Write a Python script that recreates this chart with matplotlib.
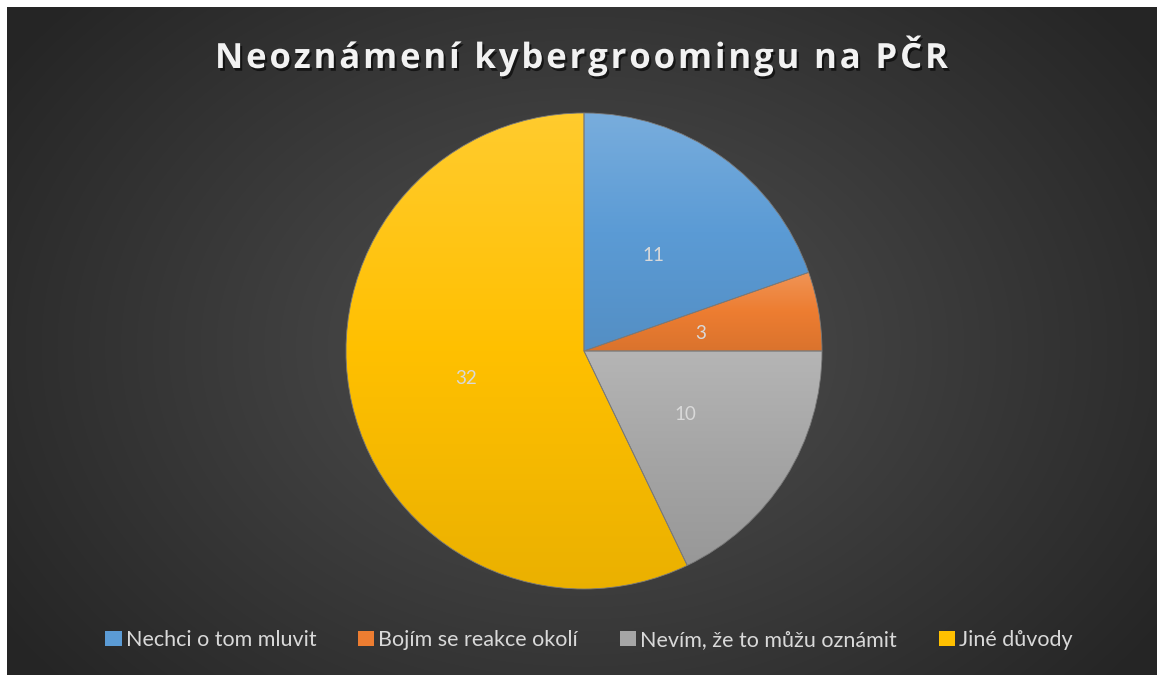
import numpy as np
import matplotlib
matplotlib.use("Agg")
import matplotlib.pyplot as plt
from matplotlib.colors import LinearSegmentedColormap, to_rgb
from matplotlib import font_manager
from matplotlib.ft2font import FT2Font
import matplotlib.patheffects as pe

# data
labels = ["Nechci o tom mluvit", "Bojím se reakce okolí", "Nevím, že to můžu oznámit", "Jiné důvody"]
values = [11, 3, 10, 32]
colors = ["#5B9BD5", "#ED7D31", "#A5A5A5", "#FFC000"]
title = "Neoznámení kybergroomingu na PČR"

W, H = 1157, 675
fig = plt.figure(figsize=(W / 100, H / 100), dpi=100, facecolor="white")

# pozadí s radiálním přechodem
bg = fig.add_axes([7 / W, 0, 1 - 7 / W, (H - 7) / H])
bg.set_axis_off()
yy, xx = np.mgrid[0:668, 0:1150]
d = np.sqrt(((xx - 575) / 700.0) ** 2 + ((yy - 340) / 520.0) ** 2)
d = np.clip(d, 0, 1)
c0, c1 = 0x51 / 255, 0x25 / 255
img = c0 + (c1 - c0) * d
bg.imshow(np.dstack([img, img, img]), aspect="auto", extent=[0, 1, 0, 1])
bg.set_xlim(0, 1)
bg.set_ylim(0, 1)

# graf
cx, cy, r = 584, 351, 238
ax = fig.add_axes([(cx - r) / W, (H - cy - r) / H, 2 * r / W, 2 * r / H])
ax.set_axis_off()

wedges, _ = ax.pie(values, colors=colors, startangle=90, counterclock=False,
                   radius=1, wedgeprops=dict(linewidth=0.6, edgecolor="#7a7a7a"))

def shade(c, f):
    c = np.array(to_rgb(c))
    if f > 0:
        return tuple(c + (1 - c) * f)
    return tuple(c * (1 + f))

# přechod v každé výseči (nahoře světlejší)
for w, c in zip(wedges, colors):
    ext = w.get_path().get_extents()
    cmap = LinearSegmentedColormap.from_list("g", [shade(c, -0.08), c, shade(c, 0.18)])
    grad = np.linspace(0, 1, 256).reshape(-1, 1)
    im = ax.imshow(grad, cmap=cmap, origin="lower", aspect="auto",
                   extent=[ext.x0, ext.x1, ext.y0, ext.y1], zorder=w.get_zorder() + 0.1)
    im.set_clip_path(w)
    w.set_facecolor("none")
    w.set_zorder(w.get_zorder() + 0.2)

ax.set_xlim(-1, 1)
ax.set_ylim(-1, 1)

# popisky hodnot
label_pos = [(653, 256), (701, 333), (685, 415), (466, 379)]
for v, (px, py) in zip(values, label_pos):
    fig.text(px / W, 1 - py / H, str(v), ha="center", va="center",
             color="#D9D9D9", fontsize=13.5, family="Lato")

# nadpis s prostrkáním písmen
tsize = 25
fp = font_manager.FontProperties(family="Open Sans", weight="bold", size=tsize)
ft = FT2Font(font_manager.findfont(fp))
ft.set_size(tsize, 100)
adv = []
for ch in title:
    g = ft.load_char(ord(ch))
    adv.append(g.linearHoriAdvance / 65536)
x_left, x_right = 215, 948
spacing = (x_right - x_left - sum(adv)) / (len(title) - 1)
x = x_left
shadow = [pe.withSimplePatchShadow(offset=(1.5, -2), shadow_rgbFace="black", alpha=0.6)]
for ch, a in zip(title, adv):
    if ch != " ":
        fig.text(x / W, 1 - 68 / H, ch, ha="left", va="baseline", color="#F2F2F2",
                 fontproperties=fp, path_effects=shadow)
    x += a + spacing

leg = fig.legend([plt.Rectangle((0, 0), 1, 1, fc=c) for c in colors], labels,
                 loc="center", bbox_to_anchor=(589 / W, 1 - 640 / H), ncol=4, frameon=False,
                 handlelength=0.75, handleheight=0.75, handletextpad=0.2, columnspacing=1.93,
                 prop=dict(family="Lato", size=15.5))
for t in leg.get_texts():
    t.set_color("#D9D9D9")

fig.savefig("out.png", dpi=100, facecolor="white")
